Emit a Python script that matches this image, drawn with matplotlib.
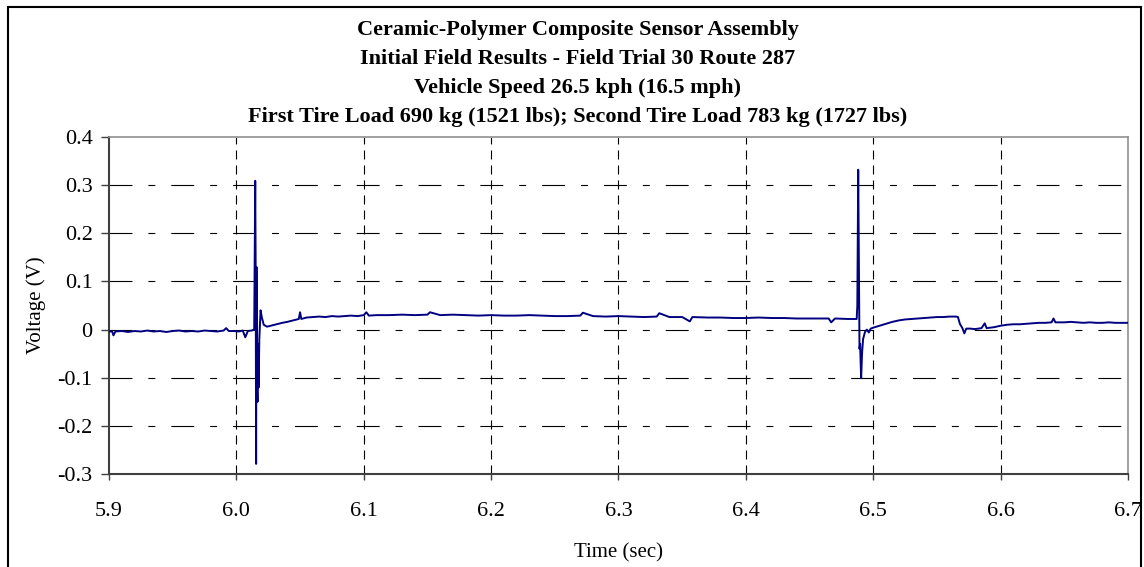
import matplotlib
matplotlib.use("Agg")
import matplotlib.pyplot as plt
from matplotlib.patches import Rectangle

plt.rcParams['font.family'] = ['Liberation Serif', 'DejaVu Serif']
plt.rcParams['lines.scale_dashes'] = False

title_lines = [
    "Ceramic-Polymer Composite Sensor Assembly",
    "Initial Field Results - Field Trial 30 Route 287",
    "Vehicle Speed 26.5 kph (16.5 mph)",
    "First Tire Load 690 kg (1521 lbs); Second Tire Load 783 kg (1727 lbs)",
]
x_label = "Time (sec)"
y_label = "Voltage (V)"
x_ticks = [5.9, 6.0, 6.1, 6.2, 6.3, 6.4, 6.5, 6.6, 6.7]
y_ticks = [-0.3, -0.2, -0.1, 0.0, 0.1, 0.2, 0.3, 0.4]
y_tick_labels = ["-0.3", "-0.2", "-0.1", "0", "0.1", "0.2", "0.3", "0.4"]

time = [
    5.900, 5.9025, 5.9035, 5.905, 5.910, 5.915, 5.920, 5.925, 5.930, 5.935,
    5.940, 5.945, 5.950, 5.955, 5.960, 5.965, 5.970, 5.975, 5.980, 5.985,
    5.990, 5.992, 5.994, 5.998, 6.002, 6.005, 6.007, 6.009, 6.012, 6.014,
    6.0148, 6.0152, 6.0155, 6.0158, 6.0162, 6.0166, 6.0170, 6.0175, 6.0180,
    6.019, 6.020, 6.0215, 6.024, 6.027, 6.030, 6.033, 6.036, 6.040, 6.043,
    6.046, 6.049, 6.050, 6.051, 6.055, 6.060, 6.065, 6.070, 6.075, 6.080,
    6.085, 6.090, 6.095, 6.100, 6.102, 6.104, 6.110, 6.120, 6.130, 6.140,
    6.150, 6.152, 6.160, 6.170, 6.180, 6.190, 6.200, 6.210, 6.220, 6.230,
    6.240, 6.250, 6.260, 6.270, 6.272, 6.280, 6.290, 6.300, 6.310, 6.320,
    6.330, 6.332, 6.340, 6.350, 6.356, 6.358, 6.370, 6.380, 6.390, 6.400,
    6.410, 6.420, 6.430, 6.440, 6.450, 6.460, 6.465, 6.467, 6.470, 6.480,
    6.487, 6.4875, 6.4882, 6.4888, 6.4892, 6.4897, 6.4900, 6.4905, 6.4912,
    6.492, 6.4935, 6.495, 6.4965, 6.498, 6.500, 6.505, 6.510, 6.515, 6.520,
    6.525, 6.530, 6.535, 6.540, 6.545, 6.550, 6.555, 6.560, 6.565, 6.5665,
    6.568, 6.570, 6.5715, 6.573, 6.576, 6.580, 6.585, 6.5875, 6.589, 6.595,
    6.600, 6.605, 6.610, 6.615, 6.620, 6.625, 6.630, 6.635, 6.640, 6.6415,
    6.643, 6.650, 6.655, 6.660, 6.665, 6.670, 6.675, 6.680, 6.685, 6.690,
    6.695, 6.700,
]
voltage = [
    -0.004, -0.004, -0.012, -0.004, -0.003, -0.005, -0.003, -0.004, -0.002, -0.004,
    -0.003, -0.005, -0.003, -0.002, -0.004, -0.003, -0.004, -0.002, -0.003, -0.004,
    -0.002, 0.003, -0.003, -0.003, -0.004, -0.002, -0.016, -0.003, -0.002, 0.000,
    0.309, 0.100, -0.279, 0.130, -0.100, -0.150, -0.030, -0.120, -0.020,
    0.040, 0.025, 0.010, 0.006, 0.008, 0.010, 0.012, 0.014, 0.016, 0.018,
    0.020, 0.022, 0.036, 0.022, 0.025, 0.026, 0.027, 0.026, 0.028, 0.027,
    0.028, 0.029, 0.028, 0.030, 0.036, 0.029, 0.030, 0.030, 0.031, 0.030,
    0.031, 0.036, 0.030, 0.031, 0.030, 0.029, 0.030, 0.029, 0.029, 0.030,
    0.029, 0.028, 0.028, 0.029, 0.035, 0.028, 0.027, 0.028, 0.027, 0.026,
    0.027, 0.034, 0.026, 0.026, 0.017, 0.026, 0.025, 0.025, 0.024, 0.024,
    0.025, 0.024, 0.024, 0.023, 0.023, 0.023, 0.023, 0.015, 0.023, 0.022,
    0.022, 0.050, 0.332, 0.100, -0.040, -0.030, -0.060, -0.101, -0.050,
    -0.020, -0.005, 0.000, -0.006, 0.002, 0.004, 0.008, 0.012, 0.016, 0.019,
    0.021, 0.022, 0.023, 0.024, 0.025, 0.026, 0.026, 0.027, 0.027, 0.026,
    0.012, 0.003, -0.008, 0.002, 0.002, 0.001, 0.003, 0.013, 0.003, 0.005,
    0.008, 0.010, 0.011, 0.011, 0.012, 0.013, 0.014, 0.014, 0.015, 0.023,
    0.015, 0.015, 0.016, 0.015, 0.014, 0.015, 0.014, 0.014, 0.015, 0.014,
    0.014, 0.014,
]

fig = plt.figure(figsize=(11.44, 5.67), dpi=100)
ax = fig.add_axes([109/1144, 1 - 474/567, (1128 - 109)/1144, (474 - 137)/567])

# horizontal grid (long-short dash)
for yv in y_ticks[1:-1]:
    ax.axhline(yv, color='black', lw=0.8, dashes=(16.5, 11.5, 5.0, 11.5), zorder=1)
# vertical grid
for xv in x_ticks[1:-1]:
    ax.axvline(xv, color='black', lw=0.8, dashes=(6.5, 4.3), zorder=1)

ax.plot(time, voltage, color='#000080', lw=1.4, zorder=3)

ax.set_xlim(5.9, 6.7)
ax.set_ylim(-0.3, 0.4)
ax.set_xticks(x_ticks)
ax.set_xticklabels([f"{v:.1f}" for v in x_ticks])
ax.set_yticks(y_ticks)
ax.set_yticklabels(y_tick_labels)
ax.tick_params(axis='both', labelsize=16, direction='out', width=1, color='#404040')
ax.tick_params(axis='x', length=4.3, pad=16)
ax.tick_params(axis='y', length=5.8, pad=6)

for s in ['left', 'bottom']:
    ax.spines[s].set_color('#404040')
    ax.spines[s].set_linewidth(1.5)
for s in ['top', 'right']:
    ax.spines[s].set_color('#909090')
    ax.spines[s].set_linewidth(1.2)

ax.set_xlabel(x_label, fontsize=15, labelpad=16)
ax.set_ylabel(y_label, fontsize=15, labelpad=8)

for i, line in enumerate(title_lines):
    fig.text(0.505, 1 - (30 + i * 29) / 567, line, ha='center', va='center',
             fontsize=16, fontweight='bold')

fig.patches.append(Rectangle((8/1144, -0.05), (1141 - 8)/1144, 1 - 7/567 + 0.05,
                             transform=fig.transFigure, fill=False, edgecolor='black',
                             lw=1.5, clip_on=False))

fig.savefig("out.png", dpi=100)
